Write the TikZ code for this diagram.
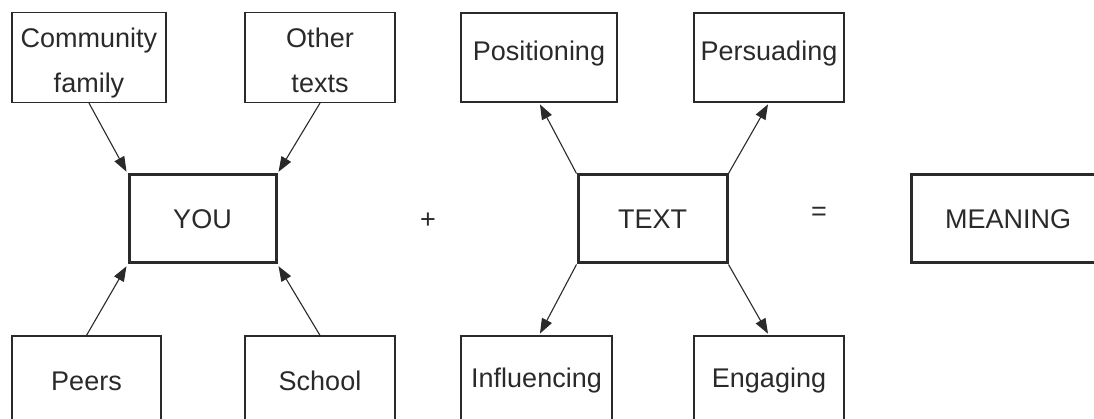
\documentclass[tikz,border=0pt]{standalone}
\usepackage{fontspec}
\setmainfont{Liberation Sans}
\usetikzlibrary{arrows.meta}
\definecolor{ink}{HTML}{2A2A2A}
% two stacked lines, lowered a little inside their box (box size kept)
\newcommand{\twolines}[2]{\raisebox{-3.5pt}[\height][\depth]{\begin{tabular}{@{}c@{}}#1\\#2\end{tabular}}}
\begin{document}
\begin{tikzpicture}[x=1pt,y=-1pt,
  every node/.style={text=ink,font=\fontsize{27}{45}\selectfont},
  box/.style={draw=ink,line width=1.2pt,rectangle,align=center,inner sep=0pt,minimum height=89pt},
  topbox/.style={box,text depth=13pt},
  core/.style={box,line width=3pt,minimum height=88pt},
  link/.style={draw=ink,line width=1.1pt,-{Triangle[length=15pt,width=11pt]},shorten >=2pt}]
  \useasboundingbox (0,0) rectangle (1094,419);
  \clip (0,0) rectangle (1094,419);

  % influences on the reader
  \node[box,minimum width=154pt] (cf) at (89,57.5) {\twolines{Community}{family}};
  \node[box,minimum width=150pt] (ot) at (320,57.5) {\twolines{Other}{texts}};
  \node[box,minimum width=149pt,minimum height=90pt] (pe) at (86.5,381) {Peers};
  \node[box,minimum width=150pt,minimum height=90pt] (sc) at (320,381) {School};
  \node[core,minimum width=147pt] (you) at (202.5,219) {YOU};

  % what the text does
  \node[topbox,minimum width=156pt] (pos) at (539,57.5) {Positioning};
  \node[topbox,minimum width=150pt] (per) at (769,57.5) {Persuading};
  \node[box,minimum width=151pt,minimum height=90pt] (inf) at (536.5,381) {Influencing};
  \node[box,minimum width=150pt,minimum height=90pt] (eng) at (769,381) {Engaging};
  \node[core,minimum width=149pt] (txt) at (652.5,219) {TEXT};

  % result
  \node[core,minimum width=194pt] (mean) at (1008,219) {MEANING};
  \node (plus) at (428,221) {+};
  \node (eq) at (819,214) {=};

  % connectors
  \draw[link] (cf.south) -- (you.north west);
  \draw[link] (ot.south) -- (you.north east);
  \draw[link] (pe.north) -- (you.south west);
  \draw[link] (sc.north) -- (you.south east);
  \draw[link] (txt.north west) -- (pos.south);
  \draw[link] (txt.north east) -- (per.south);
  \draw[link] (txt.south west) -- (inf.north -| pos.south);
  \draw[link] (txt.south east) -- (eng.north);
\end{tikzpicture}
\end{document}
